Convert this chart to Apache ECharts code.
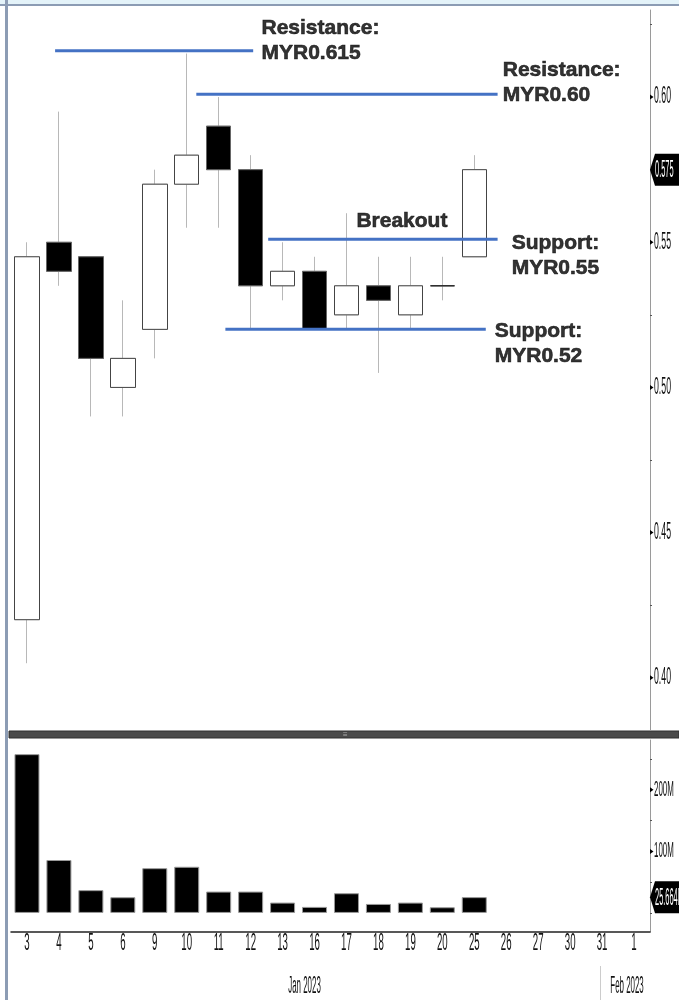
<!DOCTYPE html>
<html>
<head>
<meta charset="utf-8">
<script src="https://cdn.jsdelivr.net/npm/echarts@6/dist/echarts.min.js"></script>
<style>
html, body { margin: 0; padding: 0; background: #fff; }
#chart { width: 679px; height: 1000px; }
</style>
</head>
<body>
<div id="chart"></div>
<script>
// trading days, Jan 2023 .. 1 Feb 2023
var days = ['3', '4', '5', '6', '9', '10', '11', '12', '13', '16', '17', '18', '19', '20', '25', '26', '27', '30', '31', '1'];
var opens  = [0.420, 0.550, 0.545, 0.500, 0.520, 0.570, 0.590, 0.575, 0.535, 0.540, 0.525, 0.535, 0.525, 0.535, 0.545];
var closes = [0.545, 0.540, 0.510, 0.510, 0.570, 0.580, 0.575, 0.535, 0.540, 0.520, 0.535, 0.530, 0.535, 0.535, 0.575];
var lows   = [0.405, 0.535, 0.490, 0.490, 0.510, 0.555, 0.555, 0.520, 0.530, 0.520, 0.520, 0.505, 0.520, 0.530, 0.545];
var highs  = [0.550, 0.595, 0.545, 0.530, 0.575, 0.615, 0.600, 0.580, 0.550, 0.545, 0.560, 0.545, 0.545, 0.545, 0.580];
// volume in millions
var volumes = [258, 86, 37, 25.5, 72.7, 75, 34.7, 34.7, 16.8, 9.8, 32, 14.6, 16.8, 9.2, 25.664];

var priceLabels = [0.40, 0.45, 0.50, 0.55, 0.60];
var priceTicks = [0.40, 0.425, 0.45, 0.475, 0.50, 0.525, 0.55, 0.575, 0.60, 0.625];
var volLabels = [100, 200];
var volTicks = [0, 50, 100, 150, 200, 250];
var lastPrice = 0.575;
var lastVolume = 25.664;
var months = ['Jan 2023', 'Feb 2023'];

// drawn support / resistance levels (x in trading-day index)
var levelValues = [0.616, 0.601, 0.551, 0.520];
var levelFrom = [0.88, 5.30, 7.55, 6.21];
var levelTo = [7.08, 14.73, 14.73, 14.36];

var noteTexts = ['Resistance:\nMYR0.615', 'Resistance:\nMYR0.60', 'Breakout', 'Support:\nMYR0.55', 'Support:\nMYR0.52'];
var noteX = [7.34, 14.89, 10.31, 15.17, 14.64];
var noteY = [0.6193, 0.6048, 0.5573, 0.5453, 0.515];

var sans = '"Liberation Sans", Arial, sans-serif';

var candles = [], bodies = [];
for (var i = 0; i < opens.length; i++) {
    candles.push([opens[i], closes[i], lows[i], highs[i]]);
    bodies.push([opens[i], closes[i], Math.min(opens[i], closes[i]), Math.max(opens[i], closes[i])]);
}

var series = [
    {
        type: 'candlestick', xAxisIndex: 0, yAxisIndex: 0, barWidth: 25, silent: true,
        data: candles,
        itemStyle: { color: '#fff', color0: '#000', borderColor: '#b8b8b8', borderColor0: '#b8b8b8', borderColorDoji: '#b8b8b8', borderWidth: 1 }
    },
    {
        type: 'candlestick', xAxisIndex: 0, yAxisIndex: 0, barWidth: 25, silent: true,
        data: bodies,
        itemStyle: { color: '#fff', color0: '#000', borderColor: '#444', borderColor0: '#666', borderColorDoji: '#222', borderWidth: 1 }
    },
    {
        type: 'bar', xAxisIndex: 1, yAxisIndex: 1, barWidth: 25, silent: true,
        data: volumes,
        itemStyle: { color: '#000', borderColor: '#999', borderWidth: 1 }
    }
];

for (var k = 0; k < levelValues.length; k++) {
    series.push({
        type: 'line', xAxisIndex: 2, yAxisIndex: 0, symbol: 'none', silent: true,
        data: [[levelFrom[k], levelValues[k]], [levelTo[k], levelValues[k]]],
        lineStyle: { color: '#4472c4', width: 3 }
    });
}

series.push({
    type: 'scatter', xAxisIndex: 2, yAxisIndex: 0, symbolSize: 0, silent: true,
    data: noteX.map(function (x, j) { return [x, noteY[j]]; }),
    itemStyle: { color: 'transparent' },
    label: {
        show: true, position: 'right', distance: 0, align: 'left', verticalAlign: 'middle',
        formatter: function (p) { return noteTexts[p.dataIndex]; },
        color: '#000', fontWeight: 'bold', fontSize: 21, lineHeight: 25, fontFamily: sans,
        textBorderColor: '#000', textBorderWidth: 0.6
    }
});

var staticGraphics = [
    { type: 'rect', shape: { x: 0, y: 0, width: 679, height: 4 }, style: { fill: '#e4f3f9' }, silent: true },
    { type: 'rect', shape: { x: 0, y: 4, width: 679, height: 2 }, style: { fill: '#8c9cb4' }, silent: true },
    { type: 'rect', shape: { x: 5, y: 0, width: 3, height: 1000 }, style: { fill: '#8c9cb4' }, silent: true },
    { type: 'rect', shape: { x: 9, y: 731, width: 670, height: 7 }, style: { fill: '#4a4a4a', stroke: '#2e2e2e', lineWidth: 1 }, silent: true },
    { type: 'text', x: 343, y: 731, style: { text: '\u2261', fill: '#aaa', fontSize: 8 }, silent: true },
    { type: 'line', shape: { x1: 600.5, y1: 966, x2: 600.5, y2: 1000 }, style: { stroke: '#ccc', lineWidth: 1 }, silent: true }
];

var option = {
    animation: false,
    backgroundColor: '#fff',
    grid: [
        { left: 11, right: 29, top: 10, height: 720, outerBoundsMode: 'none', containLabel: false },
        { left: 11, right: 29, top: 740, height: 192, outerBoundsMode: 'none', containLabel: false }
    ],
    xAxis: [
        { type: 'category', gridIndex: 0, data: days, boundaryGap: true, show: false },
        {
            type: 'category', gridIndex: 1, data: days, boundaryGap: true,
            axisLine: { onZero: false, lineStyle: { color: '#222', width: 1.5 } },
            axisTick: { alignWithLabel: true, length: 4, lineStyle: { color: '#333' } },
            axisLabel: { show: false }
        },
        { type: 'value', gridIndex: 0, min: -0.5, max: 19.5, show: false }
    ],
    yAxis: [
        {
            type: 'value', gridIndex: 0, position: 'right', min: 0.382, max: 0.63, scale: true,
            splitLine: { show: false },
            axisLine: { show: true, onZero: false, lineStyle: { color: '#9a9a9a' } },
            axisTick: { show: true, length: 2, customValues: priceTicks, lineStyle: { color: '#555' } },
            axisLabel: { show: false }
        },
        {
            type: 'value', gridIndex: 1, position: 'right', min: -31, max: 281,
            splitLine: { show: false },
            axisLine: { show: true, onZero: false, lineStyle: { color: '#9a9a9a' } },
            axisTick: { show: true, length: 2, customValues: volTicks, lineStyle: { color: '#555' } },
            axisLabel: { show: false }
        }
    ],
    graphic: staticGraphics,
    series: series
};

var myChart = echarts.init(document.getElementById('chart'));
myChart.setOption(option);

// narrow, tall label text like the source terminal font
function narrowText(x, y, text, size, sx, color, align) {
    return {
        type: 'text', x: x, y: y, scaleX: sx, silent: true, z: 100,
        style: { text: text, fontSize: size, fontFamily: sans, fill: color, align: align, verticalAlign: 'middle' }
    };
}
function marker(y) {
    return { type: 'polygon', silent: true, z: 100, shape: { points: [[650, y - 2.5], [653.5, y], [650, y + 2.5]] }, style: { fill: '#000' } };
}
function valueBox(y, text) {
    return [
        { type: 'polygon', silent: true, z: 100, shape: { points: [[650, y], [655, y - 16], [679, y - 16], [679, y + 16], [655, y + 16]] }, style: { fill: '#000' } },
        narrowText(655, y + 1, text, 24, 0.31, '#fff', 'left')
    ];
}

var dyn = [];
days.forEach(function (d) {
    var px = myChart.convertToPixel({ xAxisIndex: 1 }, d);
    dyn.push(narrowText(px, 944, d, 23, 0.42, '#111', 'center'));
});
priceLabels.forEach(function (v) {
    var py = myChart.convertToPixel({ yAxisIndex: 0 }, v);
    dyn.push(marker(py));
    dyn.push(narrowText(654, py, v.toFixed(2), 23, 0.38, '#111', 'left'));
});
volLabels.forEach(function (v) {
    var py = myChart.convertToPixel({ yAxisIndex: 1 }, v);
    dyn.push(marker(py));
    dyn.push(narrowText(654, py, v + 'M', 22, 0.36, '#111', 'left'));
});
dyn = dyn.concat(valueBox(myChart.convertToPixel({ yAxisIndex: 0 }, lastPrice), lastPrice.toFixed(3)));
dyn = dyn.concat(valueBox(myChart.convertToPixel({ yAxisIndex: 1 }, lastVolume), lastVolume + 'M'));
dyn.push(narrowText(myChart.convertToPixel({ xAxisIndex: 1 }, '16') - 10, 986, months[0], 24, 0.33, '#111', 'center'));
dyn.push(narrowText(myChart.convertToPixel({ xAxisIndex: 1 }, '1') - 7, 986, months[1], 24, 0.33, '#111', 'center'));

myChart.setOption({ graphic: staticGraphics.concat(dyn) });
</script>
</body>
</html>
